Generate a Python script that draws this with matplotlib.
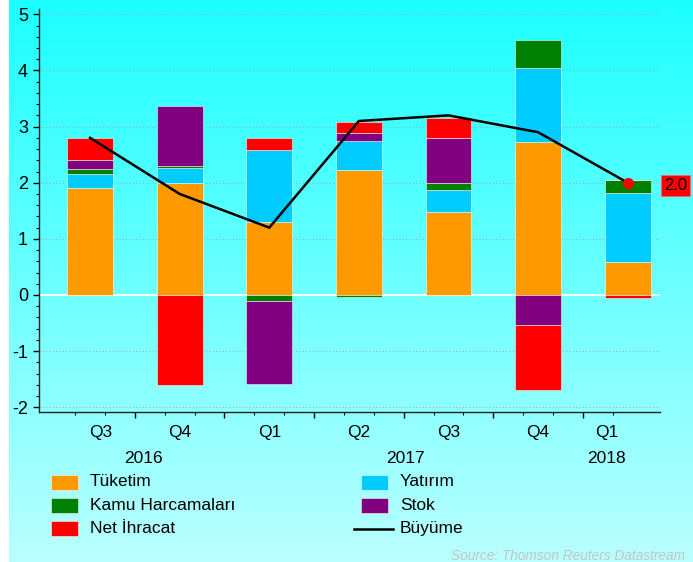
import numpy as np
import matplotlib
matplotlib.use("Agg")
import matplotlib.pyplot as plt
from matplotlib.patches import Rectangle
from matplotlib.lines import Line2D
from matplotlib.ticker import MultipleLocator, FixedLocator, NullFormatter

plt.rcParams['font.family'] = ['Liberation Sans', 'DejaVu Sans']
plt.rcParams['axes.unicode_minus'] = False

# ---- data ----
quarters = ['Q3', 'Q4', 'Q1', 'Q2', 'Q3', 'Q4', 'Q1']
quarter_label_pos = [0.12, 1.0, 2.0, 3.0, 4.0, 5.0, 5.77]
years = ['2016', '2017', '2018']
year_label_pos = [0.59, 3.52, 5.76]

tuketim = [1.91, 1.99, 1.30, 2.23, 1.47, 2.73, 0.59]
yatirim = [0.25, 0.28, 1.28, 0.52, 0.40, 1.32, 1.22]
kamu = [0.08, 0.03, -0.11, -0.03, 0.12, 0.50, 0.23]
stok = [0.17, 1.07, -1.47, 0.13, 0.80, -0.53, 0.0]
net_ihracat = [0.38, -1.61, 0.22, 0.20, 0.37, -1.16, -0.05]
buyume = [2.8, 1.8, 1.2, 3.1, 3.2, 2.9, 2.0]

series_names = ['Tüketim', 'Yatırım', 'Kamu Harcamaları', 'Stok', 'Net İhracat']
series_vals = [tuketim, yatirim, kamu, stok, net_ihracat]
series_colors = ['#FF9900', '#00CCFF', '#008000', '#800080', '#FF0000']

W, H = 693, 562
fig = plt.figure(figsize=(W / 100, H / 100), dpi=100)

# background gradient
bg = fig.add_axes([9 / W, 0, 1 - 9 / W, 1], zorder=-10)
grad = np.linspace(0, 1, 256)[:, None]
r = 0.11 + (0.73 - 0.11) * grad
img = np.dstack([r, np.ones_like(r), np.ones_like(r)])
bg.imshow(img, aspect='auto', extent=[0, 1, 0, 1], origin='upper')
bg.axis('off')

def px(x0, y0, x1, y1):
    return [x0 / W, 1 - y1 / H, (x1 - x0) / W, (y1 - y0) / H]

ax = fig.add_axes(px(39, 9.3, 660, 412.3))
ax.set_facecolor('none')

x = np.arange(len(quarters))
pos_bottom = np.zeros(len(x))
neg_bottom = np.zeros(len(x))
for vals, color in zip(series_vals, series_colors):
    v = np.array(vals, dtype=float)
    bottoms = np.where(v >= 0, pos_bottom, neg_bottom)
    ax.bar(x, v, bottom=bottoms, width=0.51, color=color,
           edgecolor=(1, 1, 1, 0.6), linewidth=0.6, zorder=3)
    pos_bottom += np.where(v >= 0, v, 0)
    neg_bottom += np.where(v < 0, v, 0)

ax.plot(x, buyume, color='black', lw=1.8, zorder=5, solid_joinstyle='miter')
ax.plot(x[-1], buyume[-1], 'o', color='#FF0000', ms=7, zorder=6)
ax.text(1.0065, buyume[-1] - 0.05, f'{buyume[-1]:.1f}', transform=ax.get_yaxis_transform(),
        ha='left', va='center', fontsize=12, color='black',
        bbox=dict(boxstyle='square,pad=0.2', fc='#FF0000', ec='#ff6060', lw=0.6))

ax.set_xlim(-0.57, 6.36)
ax.set_ylim(-2.09, 5.09)

# grid
for yv in range(-2, 6):
    if yv == 0:
        ax.axhline(0, color='white', lw=1.3, zorder=2)
    else:
        ax.axhline(yv, color='#90b8b8', lw=0.8, ls=(0, (1, 2)), zorder=1)

for s in ['top', 'right']:
    ax.spines[s].set_visible(False)
for s in ['left', 'bottom']:
    ax.spines[s].set_color('#202020')
    ax.spines[s].set_linewidth(1.0)

ax.yaxis.set_major_locator(MultipleLocator(1))
ax.yaxis.set_minor_locator(MultipleLocator(0.2))
ax.tick_params(axis='y', which='major', length=4, width=1, direction='out',
               labelsize=13, pad=4)
ax.tick_params(axis='y', which='minor', length=2.2, width=0.8, direction='out')

ax.xaxis.set_major_locator(FixedLocator([i + 0.5 for i in range(len(x) - 1)]))
minor = []
for i in range(len(x)):
    minor += [i - 1 / 6, i + 1 / 6]
minor = [m for m in minor if m < 6]
ax.xaxis.set_minor_locator(FixedLocator(minor))
ax.xaxis.set_major_formatter(NullFormatter())
ax.tick_params(axis='x', which='major', length=4.5, width=1, direction='out')
ax.tick_params(axis='x', which='minor', length=2.4, width=0.8, direction='out')

tr = ax.get_xaxis_transform()
for q, p in zip(quarters, quarter_label_pos):
    ax.text(p, -0.0506, q, transform=tr, ha='center', va='center', fontsize=12.5)
for yl, p in zip(years, year_label_pos):
    ax.text(p, -0.114, yl, transform=tr, ha='center', va='center', fontsize=12.5)

# legend (manual)
leg_items = [('Tüketim', series_colors[0], 'patch', 51, 482),
             ('Kamu Harcamaları', series_colors[2], 'patch', 51, 505.5),
             ('Net İhracat', series_colors[4], 'patch', 51, 528.5),
             ('Yatırım', series_colors[1], 'patch', 361, 482),
             ('Stok', series_colors[3], 'patch', 361, 505.5),
             ('Büyüme', 'black', 'line', 361, 528.5)]
for name, color, kind, lx, ly in leg_items:
    if kind == 'patch':
        fig.add_artist(Rectangle((lx / W, 1 - (ly + 7.5) / H), 27 / W, 15 / H,
                                 transform=fig.transFigure, fc=color,
                                 ec=(1, 1, 1, 0.6), lw=0.6))
    else:
        fig.add_artist(Line2D([354 / W, 392.7 / W], [1 - ly / H, 1 - ly / H],
                              transform=fig.transFigure, color=color, lw=1.8))
    fig.text((lx + 39) / W, 1 - ly / H, name, ha='left', va='center', fontsize=12.5)

fig.text(685 / W, 1 - 555.5 / H, 'Source: Thomson Reuters Datastream', ha='right',
         va='center', fontsize=9.8, style='italic', color='#c4c4c4')

fig.savefig('out.png', dpi=100)
